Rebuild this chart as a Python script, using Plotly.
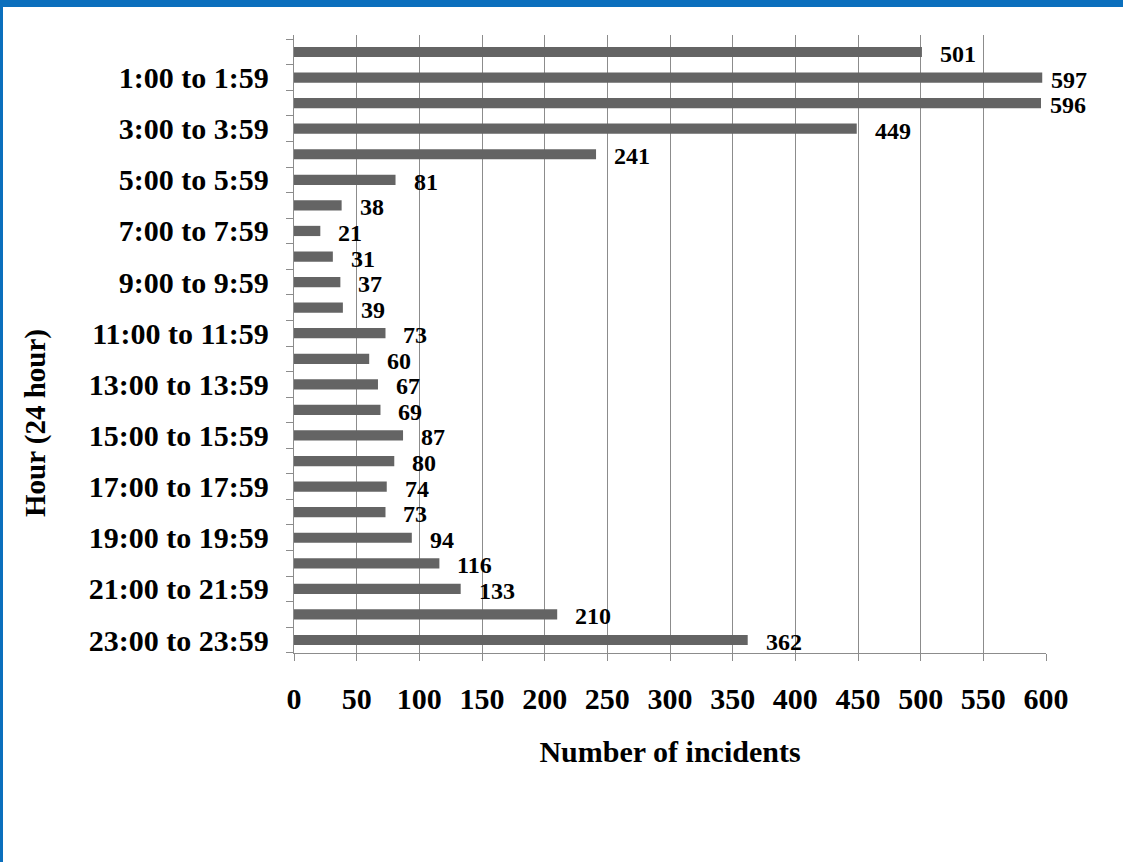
import plotly.graph_objects as go

# Hours of the day (24 h) and number of incidents in each
hours = [f"{h}:00 to {h}:59" for h in range(24)]
incidents = [501, 597, 596, 449, 241, 81, 38, 21, 31, 37, 39, 73,
             60, 67, 69, 87, 80, 74, 73, 94, 116, 133, 210, 362]

# Excel only shows every second category label
hour_labels = [h if i % 2 == 1 else "" for i, h in enumerate(hours)]

x_ticks = list(range(0, 601, 50))

serif = "Liberation Serif"
grey = "#8c8c8c"
blue = "#0b6fbd"

# plot area in pixels (left, top, width, height)
L, T, W, H = 294, 35, 752, 618

fig = go.Figure(go.Bar(
    x=incidents, y=hours, orientation="h",
    marker=dict(color="#646464", line=dict(width=0)),
    hoverinfo="x+y",
))

# data labels to the right of each bar, nudged down a little like in Excel
for h, v in zip(hours, incidents):
    fig.add_annotation(x=v, y=h, text=str(v), showarrow=False,
                       xanchor="left", yanchor="middle",
                       xshift=16 if v < 590 else 7, yshift=-2,
                       font=dict(family=serif, size=24, color="black", weight="bold"))

# y axis title sits lower than the middle of the axis in the original
fig.add_annotation(text="Hour (24 hour)", textangle=-90, showarrow=False,
                   xref="paper", yref="paper",
                   x=(35 - L) / W, y=(T + H - 423) / H,
                   xanchor="center", yanchor="middle",
                   font=dict(family=serif, size=29, color="black", weight="bold"))

# blue frame of the figure (top and left edges)
fig.add_shape(type="rect", xref="paper", yref="paper",
              x0=-L / W, x1=(1123 - L) / W, y0=1 + (T - 7) / H, y1=1 + (T + 5) / H,
              fillcolor=blue, line=dict(width=0), layer="above")
fig.add_shape(type="rect", xref="paper", yref="paper",
              x0=-(L + 5) / W, x1=-(L - 3) / W, y0=-(862 - T - H + 5) / H, y1=1 + (T + 5) / H,
              fillcolor=blue, line=dict(width=0), layer="above")

fig.update_layout(
    width=1123, height=862,
    margin=dict(l=L, r=1123 - L - W, t=T, b=862 - T - H, autoexpand=False),
    paper_bgcolor="white", plot_bgcolor="white",
    bargap=0.6, showlegend=False,
    font=dict(family=serif, color="black"),
    xaxis=dict(
        range=[0, 600], tickvals=x_ticks,
        showgrid=True, gridcolor=grey, gridwidth=1.3,
        showline=True, linecolor=grey, linewidth=1.3,
        ticks="outside", ticklen=7, tickcolor=grey, tickwidth=1.3,
        zeroline=False, ticklabelstandoff=12,
        tickfont=dict(family=serif, size=30, color="black", weight="bold"),
        title=dict(text="Number of incidents", standoff=26,
                   font=dict(family=serif, size=30, color="black", weight="bold")),
    ),
    yaxis=dict(
        type="category", autorange="reversed",
        tickvals=hours, ticktext=hour_labels, tickson="boundaries",
        showgrid=False, showline=True, linecolor=grey, linewidth=1.3,
        ticks="outside", ticklen=7, tickcolor=grey, tickwidth=1.3,
        ticklabelstandoff=18,
        tickfont=dict(family=serif, size=30, color="black", weight="bold"),
    ),
)

# drop the default page margin so the figure sits at the window's top-left corner
fig.write_html("out.html", config={"displayModeBar": False},
               post_script="document.body.style.margin='0';")
